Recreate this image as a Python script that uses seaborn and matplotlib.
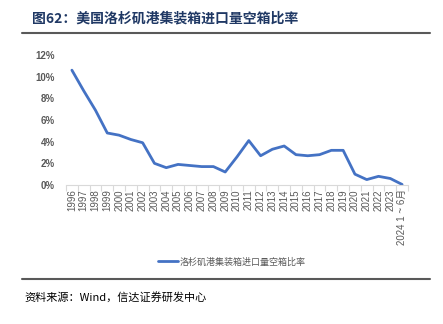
import matplotlib
matplotlib.use("Agg")
import matplotlib.pyplot as plt
import seaborn as sns
import pandas as pd
from matplotlib.ticker import FuncFormatter, FixedLocator
from matplotlib.lines import Line2D

years = ["1996", "1997", "1998", "1999", "2000", "2001", "2002", "2003", "2004",
         "2005", "2006", "2007", "2008", "2009", "2010", "2011", "2012", "2013",
         "2014", "2015", "2016", "2017", "2018", "2019", "2020", "2021", "2022",
         "2023", "2024 1 ~ 6月"]
ratio = [10.6, 8.7, 6.9, 4.8, 4.6, 4.2, 3.9, 2.0, 1.6,
         1.9, 1.8, 1.7, 1.7, 1.2, 2.6, 4.1, 2.7, 3.3,
         3.6, 2.8, 2.7, 2.8, 3.2, 3.2, 1.0, 0.5, 0.8,
         0.6, 0.05]
series_name = "洛杉矶港集装箱进口量空箱比率"
title = "图62：美国洛杉矶港集装箱进口量空箱比率"
source = "资料来源：Wind，信达证券研发中心"

sns.set_theme(style="white")
plt.rcParams['font.family'] = ['Liberation Sans', 'Noto Sans CJK SC', 'DejaVu Sans']

W, H = 443, 324
fig = plt.figure(figsize=(W / 100, H / 100), dpi=100)
ax = fig.add_axes([66 / W, 1 - 185 / H, (408 - 66) / W, (185 - 55) / H])

df = pd.DataFrame({"x": range(len(years)), "y": ratio})
sns.lineplot(data=df, x="x", y="y", ax=ax, color="#4472C4", linewidth=2.0)

ax.set_xlim(-0.5, len(years) - 0.5)
ax.set_ylim(0, 12)
ax.set_yticks(range(0, 13, 2))
ax.yaxis.set_major_formatter(FuncFormatter(lambda v, p: f"{int(v)}%"))
ax.set_xticks(range(len(years)))
ax.set_xticklabels(years, rotation=90, fontsize=7, color="#595959")
ax.xaxis.set_minor_locator(FixedLocator([i - 0.5 for i in range(len(years) + 1)]))
ax.tick_params(axis="x", which="major", length=0, pad=3)
ax.tick_params(axis="x", which="minor", length=4, color="#D9D9D9", width=0.8, bottom=True)
ax.tick_params(axis="y", length=0, labelsize=7, labelcolor="#595959", pad=8)
for lab in ax.get_yticklabels():
    lab.set_fontweight("bold")
ax.set_xlabel("")
ax.set_ylabel("")
for s in ["top", "right", "left"]:
    ax.spines[s].set_visible(False)
ax.spines["bottom"].set_color("#D9D9D9")
ax.spines["bottom"].set_linewidth(0.8)
ax.grid(False)

handle = Line2D([0], [0], color="#4472C4", linewidth=2.0)
fig.legend([handle], [series_name], loc="center", bbox_to_anchor=(232 / W, 1 - 262 / H),
           frameon=False, prop={"family": ["Noto Sans CJK SC"], "size": 6.5},
           labelcolor="#595959", handlelength=2.2, handletextpad=0.2)

fig.text(32 / W, 1 - 18 / H, title, fontsize=10, fontweight="bold", color="#1F3864",
         va="center", ha="left", family=["Noto Sans CJK SC", "DejaVu Sans"])
fig.add_artist(Line2D([22 / W, 430 / W], [1 - 33 / H, 1 - 33 / H], color="#595959", linewidth=1.5))
fig.add_artist(Line2D([22 / W, 430 / W], [1 - 279 / H, 1 - 279 / H], color="#595959", linewidth=1.5))
fig.text(24 / W, 1 - 297 / H, source, fontsize=8, style="italic", color="#000000",
         va="center", ha="left", family=["Noto Sans CJK SC", "DejaVu Sans"])

fig.savefig("out.png", dpi=100)
